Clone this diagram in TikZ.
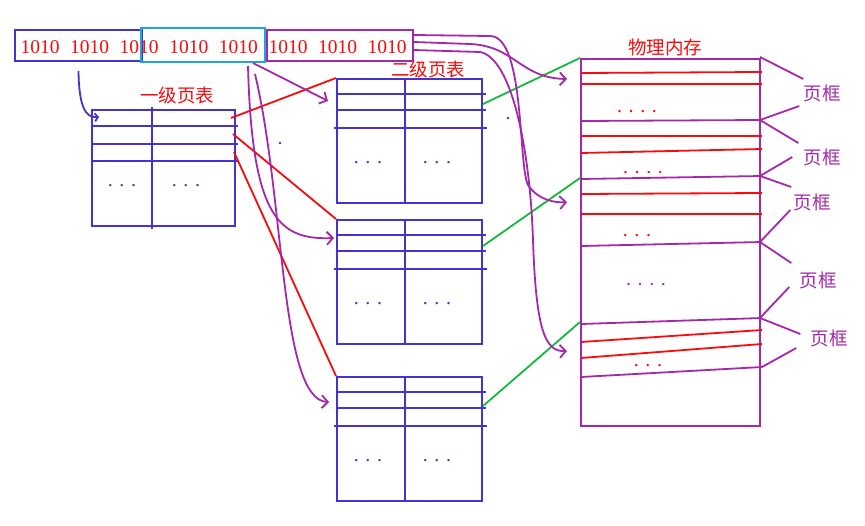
\documentclass[tikz,border=0pt]{standalone}
\usepackage{fontspec}
\setmainfont{Liberation Serif}
\newfontfamily\cjk{Noto Sans CJK SC}
\usetikzlibrary{arrows.meta,calc}
\definecolor{tabblue}{RGB}{68,50,210}
\definecolor{addrcyan}{RGB}{30,165,225}
\definecolor{mempurple}{RGB}{165,40,170}
\definecolor{linkgreen}{RGB}{20,185,60}
\definecolor{linkred}{RGB}{250,10,10}

\begin{document}
\begin{tikzpicture}[x=1pt, y=-1pt,
    addr/.style={draw, line width=2pt, inner sep=0pt},
    bits/.style={text=linkred, font=\fontsize{19.5}{20}\selectfont, inner sep=0pt},
    lbl/.style={font=\cjk\fontsize{18.5}{19}\selectfont, inner sep=0pt},
    ptab/.style={draw=tabblue, line width=2pt, inner sep=0pt,
      minimum width=145pt, minimum height=124pt},
    tline/.style={tabblue, line width=2pt},
    dots/.style={font=\fontsize{20}{20}\selectfont, inner sep=0pt},
    mline/.style={mempurple, line width=1.8pt},
    rline/.style={linkred, line width=1.8pt},
    gline/.style={linkgreen, line width=1.8pt},
    parrow/.style={mempurple, line width=1.8pt, ->},
    >={Straight Barb[length=6pt,width=13pt]}]
  \useasboundingbox (0,0) rectangle (865,525);

  % virtual address
  \node[addr, draw=tabblue, minimum width=127pt, minimum height=31pt] (a1) at (78.5,45.5) {};
  \node[addr, draw=mempurple, minimum width=146pt, minimum height=31pt] (a3) at (340,45.5) {};
  \node[addr, draw=addrcyan, minimum width=124pt, minimum height=34pt] (a2) at (203,45) {};
  \foreach \i in {0,...,7}
    \node[bits] (d\i) at (40+49.6*\i,47.5) {1010};

  % first level page table
  \node[lbl, text=linkred] (l1) at (177,95) {一级页表};
  \node[ptab, minimum width=143pt, minimum height=116pt] (t1) at (163.5,168) {};
  \draw[tline] ([shift={(61,-2)}]t1.north west) -- ([shift={(61,2)}]t1.south west);
  \foreach \r in {17,35,52}
    \draw[tline] ([shift={(0,\r)}]t1.north west) -- ([shift={(2,\r)}]t1.north east);
  \node[dots, text=tabblue] at ([shift={(31,77)}]t1.north west) {. . .};
  \node[dots, text=tabblue] at ([shift={(95,77)}]t1.north west) {. . .};

  % second level page tables
  \node[lbl, text=linkred] (l2) at (428,69) {二级页表};
  \foreach \n/\y in {1/79,2/220,3/377} {
    \node[ptab] (s\n) at (409.5,\y+62) {};
    \draw[tline] ([xshift=69pt]s\n.north west) -- ([xshift=69pt]s\n.south west);
    \draw[tline] ([shift={(0,16)}]s\n.north west) -- ([shift={(3,16)}]s\n.north east);
    \draw[tline] ([shift={(0,32)}]s\n.north west) -- ([shift={(3,32)}]s\n.north east);
    \draw[tline] ([shift={(-2,50)}]s\n.north west) -- ([shift={(4,50)}]s\n.north east);
    \node[dots, text=tabblue] at ([shift={(32,85)}]s\n.north west) {. . .};
    \node[dots, text=tabblue] at ([shift={(101,85)}]s\n.north west) {. . .};
  }
  \fill[tabblue] (280,143) circle (1.3pt);
  \fill[tabblue] (508,118) circle (1.3pt);

  % physical memory
  \node[lbl, text=linkred] (l3) at (665,47) {物理内存};
  \node[draw=mempurple, line width=2pt, inner sep=0pt,
    minimum width=179pt, minimum height=367pt] (mem) at (670.5,242.5) {};
  \foreach \l/\r/\s in {73/72/rline, 84/84/rline, 121/120/mline, 136/136/rline,
      153/149/rline, 179/176/mline, 194/193/rline, 214/214/rline, 246/242/mline,
      324/318/mline, 342/330/rline, 358/344/rline, 377/367/mline}
    \draw[\s] (581,\l) -- (762,\r);
  \node[dots, text=linkred] at (637,112) {. . . .};
  \node[dots, text=linkred] at (643,173) {. . . .};
  \node[dots, text=linkred] at (637,236) {. . .};
  \node[dots, text=mempurple] at (646,285) {. . . .};
  \node[dots, text=linkred] at (648,366) {. . .};

  % page frames
  \foreach \n/\x/\y in {1/822/93, 2/822/157, 3/812/202, 4/818/280, 5/829/338}
    \node[lbl, text=mempurple] (k\n) at (\x,\y) {页框};
  \coordinate (m0) at (760,57);
  \coordinate (m1) at (760,120);
  \coordinate (m2) at (760,176);
  \coordinate (m3) at (760,242);
  \coordinate (m4) at (760,318);
  \coordinate (m5) at (762,367);
  \draw[mline] (m0) -- ([shift={(0,-14)}]k1.west);
  \draw[mline] (m1) -- ([shift={(-4,13)}]k1.west);
  \draw[mline] (m1) -- ([shift={(-5,-14)}]k2.west);
  \draw[mline] (m2) -- ([shift={(-11,0)}]k2.west);
  \draw[mline] (m2) -- ([shift={(-2,-15)}]k3.west);
  \draw[mline] (m3) -- ([shift={(-3,8)}]k3.west);
  \draw[mline] (m3) -- ([shift={(-8,-17)}]k4.west);
  \draw[mline] (m4) -- ([shift={(-10,7)}]k4.west);
  \draw[mline] (m4) -- ([shift={(-10,-4)}]k5.west);
  \draw[mline] (m5) -- ([shift={(-14,10)}]k5.west);

  % first level -> second level
  \draw[rline] ([shift={(-5,9)}]t1.north east) -- (s1.north west);
  \draw[rline] ([shift={(-3,25)}]t1.north east) -- (s2.north west);
  \draw[rline] ([shift={(-2,43)}]t1.north east) -- (s3.north west);

  % second level -> frames
  \draw[gline] ([yshift=-26pt]s1.north east) -- (mem.north west);
  \draw[gline] ([yshift=-27pt]s2.north east) -- ([yshift=-120pt]mem.north west);
  \draw[gline] ([yshift=-30pt]s3.north east) -- ([yshift=-264pt]mem.north west);

  % index arrows
  \draw[tline, line width=1.8pt, -{Straight Barb[length=3pt,width=8pt]}]
    ([yshift=-9pt]a1.south) .. controls (79,108) and (86,118) .. ([shift={(8,8)}]t1.north west);
  \draw[parrow] ([xshift=-13pt]a2.south east) -- ([shift={(-8,23)}]s1.north west);
  \draw[parrow] ([shift={(-18,3)}]a2.south east) .. controls (252,220) and (280,240)
    .. ([shift={(-2,19)}]s2.north west);
  \draw[parrow] ([shift={(-11,11)}]a2.south east) .. controls (285,200) and (280,400)
    .. ([shift={(-7,26)}]s3.north west);
  \draw[parrow] ([yshift=-6pt]a3.north east) -- (490,36) .. controls (525,36) and (518,165)
    .. (528,185) .. controls (538,200) and (555,203) .. ([shift={(-13,144)}]mem.north west);
  \draw[parrow] ([yshift=-13pt]a3.north east) -- (470,44) .. controls (515,46) and (520,78)
    .. ([shift={(-13,21)}]mem.north west);
  \draw[parrow] ([yshift=-21pt]a3.north east) -- (480,52) .. controls (512,58) and (530,150)
    .. (533,240) .. controls (536,330) and (545,352) .. ([shift={(-13,293)}]mem.north west);
\end{tikzpicture}
\end{document}
